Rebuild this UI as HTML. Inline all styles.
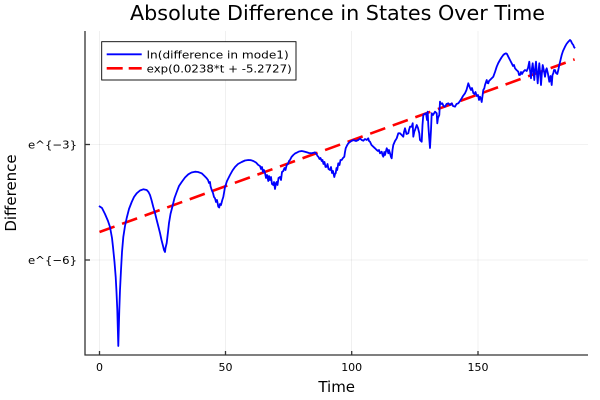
<!DOCTYPE html>
<html><head><meta charset="utf-8"><style>
html,body{margin:0;padding:0;background:#fff;}
svg{display:block;}
text{font-family:"DejaVu Sans","Liberation Sans",sans-serif;fill:#000;}
</style></head><body>
<svg width="600" height="400" viewBox="0 0 600 400" xmlns="http://www.w3.org/2000/svg">
<rect width="600" height="400" fill="#fff"/>
<!-- grid -->
<g stroke="#000" stroke-opacity="0.1" stroke-width="0.6">
<line x1="99.5" y1="31" x2="99.5" y2="355"/>
<line x1="225.5" y1="31" x2="225.5" y2="355"/>
<line x1="351.7" y1="31" x2="351.7" y2="355"/>
<line x1="478" y1="31" x2="478" y2="355"/>
<line x1="85" y1="144.5" x2="588" y2="144.5"/>
<line x1="85" y1="260" x2="588" y2="260"/>
</g>
<!-- axes -->
<g stroke="#333" stroke-width="1.3">
<line x1="85" y1="31" x2="85" y2="355.5"/>
<line x1="84.5" y1="355" x2="588" y2="355"/>
<line x1="99.5" y1="355" x2="99.5" y2="351"/>
<line x1="225.5" y1="355" x2="225.5" y2="351"/>
<line x1="351.7" y1="355" x2="351.7" y2="351"/>
<line x1="478" y1="355" x2="478" y2="351"/>
<line x1="85" y1="144.5" x2="90" y2="144.5"/>
<line x1="85" y1="260" x2="90" y2="260"/>
</g>
<!-- tick labels -->
<g font-size="11" text-anchor="middle">
<text x="99.5" y="371">0</text>
<text x="225.5" y="371">50</text>
<text x="351.7" y="371">100</text>
<text x="478" y="371">150</text>
</g>
<g font-size="11">
<text x="28" y="148.5" textLength="49" lengthAdjust="spacingAndGlyphs">e^{−3}</text>
<text x="28" y="264" textLength="49" lengthAdjust="spacingAndGlyphs">e^{−6}</text>
</g>
<!-- title & labels -->
<text x="130" y="20" font-size="20" textLength="415" lengthAdjust="spacingAndGlyphs">Absolute Difference in States Over Time</text>
<text x="336.7" y="392" font-size="15" text-anchor="middle">Time</text>
<text transform="translate(16,193) rotate(-90)" font-size="15" text-anchor="middle">Difference</text>
<!-- red fit line -->
<line x1="99.5" y1="232" x2="574.6" y2="59.4" stroke="#ff0000" stroke-width="2.6" stroke-dasharray="16 8"/>
<!-- blue data -->
<polyline fill="none" stroke="#0000ff" stroke-width="1.8" stroke-linejoin="round" points="
99,206 102,208 105,214 108,221 110,227 112,238 113,247 114.5,262 115.7,277 116.5,292 117.3,310 118.3,346 119.3,310 120,290 121,270 122,252 123.3,237 125,226 126.7,218 129,209 131.7,202 134,197 136.7,193.3 140,190.5 143.3,189.3 146.7,190 148.5,192 150,195 151.5,200 153.3,207 155,213 156.7,220 158.5,227 160,233 161.5,240 163.3,247 164,250 165,252 165.5,248 166.7,243 168,232 169,223 170.5,214 172.3,207 174.5,198 176.7,192 179,186 181.7,182 185,177.5 188.3,174.3 191.5,172.5 195,171.7 198,172 201.7,173.3 204,175.5 206.7,178.3 208,180 209,183 210,182 210.5,186 211.7,190 213,193 214,197 215,198.3 216,202 217,200 218.3,206.7 219.2,207.5 220,204 221,205 222.3,200 223.3,197 225,187 227,181 230,175 232.5,170.5 235,167 238,164 241.7,162 245,160.5 248.3,160 251,160.2 253.3,161 256,162.5 258.3,165 260,166 261,169 262,167 263,172 264,170 265,173 266,178 267,175 268.3,181 269,176 270,180 271,177 272,184 273.3,185 274,182 275,189 276,183 276.7,182 277.5,185 278.5,178 280,177 281,180 282,172 283.3,171 284.5,168 285.5,170 286.7,165 288,164 289,161 290,160 291.5,157 293.3,155 295,153.5 296.7,152.7 299,151.5 301.7,151 304,151.5 306.7,152.3 309,153 311.7,153.3 313.5,152.8 315,152.3 316.5,154 317.5,156 318.3,156.7 319.5,159 320.5,158 321.7,161 322.5,160 323.5,164 324.5,162 325.5,167 326.7,166.7 327.5,164 328.5,169 330,170 331,167 332,173 333,171 334.3,177 335,174 335.7,173.3 336.5,168 337.2,170 338.3,163.3 339.5,165 340.5,160 341.7,160 343,158 344.3,156.7 345,152 345.7,148.3 347,145.5 348.3,143.3 350.5,141.5 353.3,140 356,141 358.3,140 360,138.5 361.7,140 363.3,140.7 365,139 366.7,140 368.3,138.3 369,141 370,141.7 371.5,145 373.3,146.7 375,148.3 376.7,150 378,151 379,150 380,153.3 381.7,151.7 382.5,155 383.3,156.7 384.3,152 385,155 386.7,148.3 387.5,150 388.3,153.3 389,150 390,153.3 391,157 391.7,158.3 392.5,150 393.3,145 395,141 396.7,138.3 398.3,133.3 400,133.3 401.7,135 403.3,136.7 404,132 405,128.3 406.5,134 408.3,133.3 409,130 410,126.7 411.7,126.7 412.7,123.3 413.3,136.7 414.3,131.7 415,130 416.7,125 418,128 419.3,133.3 420,140 421.7,141.7 422.5,125 423.3,115 424.5,114 426,113.3 427,120 427.7,111.7 428.3,125 429.2,138 430,148 431,130 431.7,113.3 433,115 435,111.7 436.7,113.3 437.3,123.3 438,118 439.3,115 440,101.7 441,104 442.3,103.3 443.5,106 445,106.7 446.5,104 448.3,103.3 450,105 451.7,103.3 453,106 455,106.7 456.5,104 458.3,103.3 460,101 461.7,98.3 463,96 465,93.3 466.5,90 468.3,83.3 470,88 471,90 472,88 473.3,93 474.5,94 475.5,92 476.7,96 478,95 479,100 480,96.7 481,99 481.7,102 482.5,96 483.3,90 484.3,88.3 485,85 486,82 486.7,80 487.5,83 488.3,83.3 489,81 490,80 491.5,78.5 493.3,76.7 495,72 496.7,66.7 498.3,63 500,60 501.5,57.5 503.3,55 504.5,54 506,53.3 507,54 508.3,56.7 510,60 511.7,63.3 513,66 514,65 515,68.3 516.5,70 518.3,71.7 519,75 520,75 521,72 522,74 523.3,71.7 525,70 526.7,71 528,68 529.3,61.7 530,70 531,78.3 532,68 532.7,63.3 533.5,72 534.3,80 535,70 536,61.7 536.8,72 537.7,83.3 538.5,72 539.3,63.3 540.2,74 541,85 541.8,74 542.7,65 543.8,70 545,76.7 546,70 546.7,68.3 548,74 549.3,81.7 550.5,76 551.7,85 552.5,75 553.3,73.3 554,70 555,70 556,73 557.3,74 558.3,70 559.3,65 560.5,60 561.7,55 563,51 565,46.7 566.5,44 568.3,41.7 570,40 571,41 571.7,42.7 572.5,44 573.3,45 574,47 575,48.3"/>
<!-- legend -->
<rect x="101.7" y="41.7" width="194.3" height="38.3" fill="#fff" stroke="#000" stroke-width="0.9"/>
<line x1="106.7" y1="54.3" x2="141.7" y2="54.3" stroke="#0000ff" stroke-width="1.8"/>
<line x1="106.7" y1="68.3" x2="141.7" y2="68.3" stroke="#ff0000" stroke-width="2.6" stroke-dasharray="16 6"/>
<g font-size="11">
<text x="146.7" y="58.3" textLength="142" lengthAdjust="spacingAndGlyphs">ln(difference in mode1)</text>
<text x="146.7" y="72.3" textLength="145" lengthAdjust="spacingAndGlyphs">exp(0.0238*t + -5.2727)</text>
</g>
</svg>
</body></html>
